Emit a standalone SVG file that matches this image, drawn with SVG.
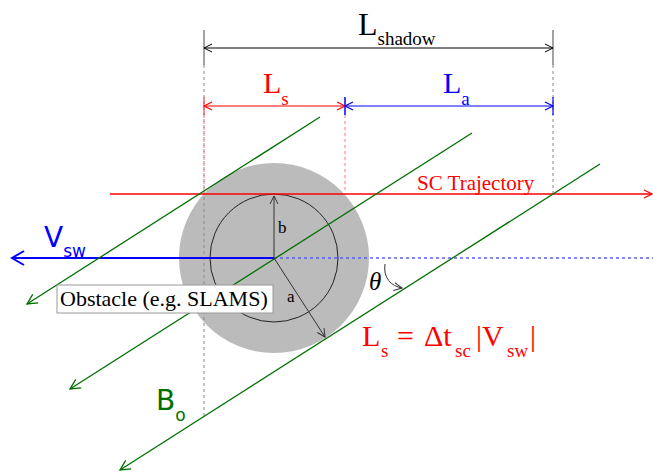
<svg xmlns="http://www.w3.org/2000/svg" width="653" height="475" viewBox="0 0 653 475">
<style>
.serif{font-family:"Liberation Serif","Times New Roman",serif}
.sans{font-family:"DejaVu Sans","Noto Sans",sans-serif}
.red{fill:#ff0000}
.blue{fill:#0000ff}
.green{fill:#006f00}
.blk{fill:#000}
.ln{fill:none}
</style>
<defs>
<marker id="aK" markerUnits="userSpaceOnUse" markerWidth="12" markerHeight="12" refX="0" refY="0" viewBox="-10 -6 12 12" orient="auto-start-reverse" overflow="visible"><path d="M-8,-4 L0,0 L-8,4" fill="none" stroke="#000" stroke-width="1"/></marker>
<marker id="aG" markerUnits="userSpaceOnUse" markerWidth="12" markerHeight="12" refX="0" refY="0" viewBox="-10 -6 12 12" orient="auto-start-reverse" overflow="visible"><path d="M-8,-4 L0,0 L-8,4" fill="none" stroke="#333" stroke-width="1"/></marker>
<marker id="aR" markerUnits="userSpaceOnUse" markerWidth="12" markerHeight="12" refX="0" refY="0" viewBox="-10 -6 12 12" orient="auto-start-reverse" overflow="visible"><path d="M-8,-4 L0,0 L-8,4" fill="none" stroke="#ff0000" stroke-width="1.2"/></marker>
<marker id="aB" markerUnits="userSpaceOnUse" markerWidth="12" markerHeight="12" refX="0" refY="0" viewBox="-10 -6 12 12" orient="auto-start-reverse" overflow="visible"><path d="M-8,-4 L0,0 L-8,4" fill="none" stroke="#0000ff" stroke-width="1.2"/></marker>
<marker id="aBig" markerUnits="userSpaceOnUse" markerWidth="16" markerHeight="16" refX="0" refY="0" viewBox="-14 -8 16 16" orient="auto-start-reverse" overflow="visible"><path d="M-12,-7 L0,0 L-12,7" fill="none" stroke="#0000ff" stroke-width="2"/></marker>
<marker id="aGr" markerUnits="userSpaceOnUse" markerWidth="14" markerHeight="14" refX="0" refY="0" viewBox="-12 -7 14 14" orient="auto-start-reverse" overflow="visible"><path d="M-10,-5 L0,0 L-10,5" fill="none" stroke="#006f00" stroke-width="1.3"/></marker>
</defs>

<g id="obstacle">
<circle cx="274" cy="258" r="95" fill="#bbbbbb"/>
<circle cx="274" cy="258" r="64" fill="none" stroke="#222" stroke-width="1"/>
</g>

<g id="guides" fill="none">
<line x1="204" y1="65" x2="204" y2="417" stroke="#888" stroke-width="1" stroke-dasharray="3,3"/>
<line x1="553" y1="65" x2="553" y2="194" stroke="#888" stroke-width="1" stroke-dasharray="3,3"/>
<line x1="204" y1="115" x2="204" y2="194" stroke="#ff7777" stroke-width="1" stroke-dasharray="3,3"/>
<line x1="345" y1="115" x2="345" y2="194" stroke="#ff7777" stroke-width="1" stroke-dasharray="3,3"/>
<line x1="204" y1="30" x2="204" y2="65" stroke="#444" stroke-width="1"/>
<line x1="553" y1="30" x2="553" y2="65" stroke="#444" stroke-width="1"/>
<line x1="204" y1="97" x2="204" y2="115" stroke="#ff4444" stroke-width="1.2"/>
<line x1="345" y1="97" x2="345" y2="115" stroke="#0000ff" stroke-width="1.5"/>
<line x1="553" y1="97" x2="553" y2="115" stroke="#0000ff" stroke-width="1.2"/>
</g>

<g id="connectors" fill="none">
<line x1="204" y1="48" x2="553" y2="48" stroke="#000" stroke-width="1" marker-start="url(#aK)" marker-end="url(#aK)"/>
<line x1="204" y1="106" x2="345" y2="106" stroke="#ff0000" stroke-width="1.2" marker-start="url(#aR)" marker-end="url(#aR)"/>
<line x1="345" y1="106" x2="553" y2="106" stroke="#0000ff" stroke-width="1.2" marker-start="url(#aB)" marker-end="url(#aB)"/>
<line x1="110" y1="194" x2="652" y2="194" stroke="#ff0000" stroke-width="1.5" marker-end="url(#aR)"/>
<line x1="274" y1="258" x2="653" y2="258" stroke="#5b5bff" stroke-width="1.5" stroke-dasharray="3,3"/>
<line x1="274" y1="258" x2="12" y2="258" stroke="#0000ff" stroke-width="2" marker-end="url(#aBig)"/>
<line x1="320" y1="117" x2="27" y2="304" stroke="#006f00" stroke-width="1.3" marker-end="url(#aGr)"/>
<line x1="472" y1="133" x2="70" y2="389" stroke="#006f00" stroke-width="1.3" marker-end="url(#aGr)"/>
<line x1="600" y1="164" x2="120" y2="470" stroke="#006f00" stroke-width="1.3" marker-end="url(#aGr)"/>
<line x1="274" y1="258" x2="274" y2="196" stroke="#333" stroke-width="1" marker-end="url(#aG)"/>
<line x1="274" y1="258" x2="325" y2="337" stroke="#333" stroke-width="1" marker-end="url(#aG)"/>
<path d="M385,264 C383,278 391,286 402,288" stroke="#333" stroke-width="1" marker-end="url(#aG)"/>
</g>

<g id="label-box">
<rect x="57" y="285" width="216" height="28" fill="#fff" stroke="#999" stroke-width="1"/>
<text x="60" y="306" class="serif blk" font-size="22">Obstacle (e.g. SLAMS)</text>
</g>

<g id="labels">
<text x="358" y="35" class="serif blk" font-size="32">L<tspan font-size="19" dy="10">shadow</tspan></text>
<text x="263" y="93" class="serif red" font-size="30">L<tspan font-size="19" dy="12">s</tspan></text>
<text x="443" y="93" class="serif blue" font-size="30">L<tspan font-size="19" dy="12">a</tspan></text>
<text x="417" y="190" class="serif red" font-size="21">SC Trajectory</text>
<text x="44" y="247" class="sans blue" font-size="28">V<tspan font-size="17" dy="10">sw</tspan></text>
<text x="156" y="410" class="sans green" font-size="28">B<tspan font-size="17" dy="11">o</tspan></text>
<text x="278" y="233" class="serif blk" font-size="17">b</text>
<text x="287" y="302" class="serif blk" font-size="17">a</text>
<text x="369" y="290" class="serif blk" font-size="25" font-style="italic">θ</text>
<g class="serif red">
<text x="362" y="346" font-size="30">L</text>
<text x="381" y="357" font-size="19">s</text>
<text x="397" y="346" font-size="30">=</text>
<text x="424" y="346" font-size="30">Δt</text>
<text x="455" y="357" font-size="19">sc</text>
<text x="476" y="346" font-size="30">|V</text>
<text x="507" y="357" font-size="19">sw</text>
<text x="530" y="346" font-size="30">|</text>
</g>
</g>
</svg>
